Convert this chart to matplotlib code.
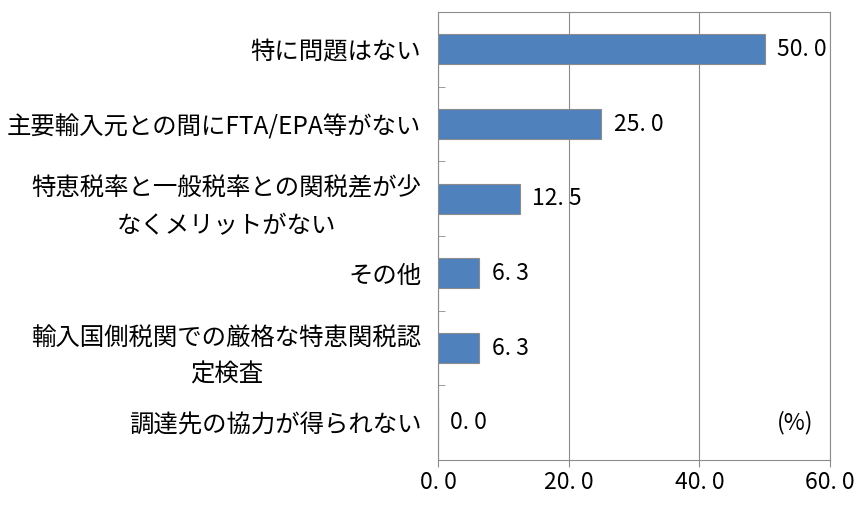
import numpy as np
import matplotlib.pyplot as plt

plt.rcParams['font.family'] = ['Noto Sans CJK JP', 'DejaVu Sans']

categories = ["特に問題はない",
              "主要輸入元との間にFTA/EPA等がない",
              "特恵税率と一般税率との関税差が少\nなくメリットがない",
              "その他",
              "輸入国側税関での厳格な特恵関税認\n定検査",
              "調達先の協力が得られない"]
values = [50.0, 25.0, 12.5, 6.3, 6.3, 0.0]
xticks = [0, 20, 40, 60]

fig = plt.figure(figsize=(8.66, 5.05), dpi=100)
ax = fig.add_axes([0.5058, 0.0891, 0.4526, 0.887])

y = np.arange(len(categories))
ax.barh(y, values, height=0.4, color='#4F81BD', edgecolor='#8c8c8c', linewidth=0.8, zorder=3)
for yi, v in zip(y, values):
    ax.text(v + 1.9, yi, f"{v:.1f}".replace(".", ". "), va='center', ha='left', fontsize=16.5)

ax.set_xlim(0, 60)
ax.set_ylim(len(categories) - 0.5, -0.5)
ax.set_xticks(xticks)
ax.set_xticklabels([f"{t:.1f}".replace(".", ". ") for t in xticks], fontsize=16.5)
ax.set_yticks(y)
ax.set_yticklabels(categories, fontsize=17.6, ha='right', multialignment='center', linespacing=1.55)
ax.tick_params(axis='y', length=0, pad=12)
ax.set_yticks(np.arange(len(categories) + 1) - 0.5, minor=True)
ax.tick_params(axis='y', which='minor', direction='in', length=5, color='#8c8c8c')
ax.tick_params(axis='x', direction='out', length=5, color='#8c8c8c', pad=3)
ax.grid(axis='x', color='#8c8c8c', linewidth=0.8, zorder=0)
for s in ax.spines.values():
    s.set_color('#8c8c8c')
    s.set_linewidth(0.8)

ax.text(54.7, 5, "(%)", ha='center', va='center', fontsize=16.5)

fig.savefig("out.png", dpi=100)
